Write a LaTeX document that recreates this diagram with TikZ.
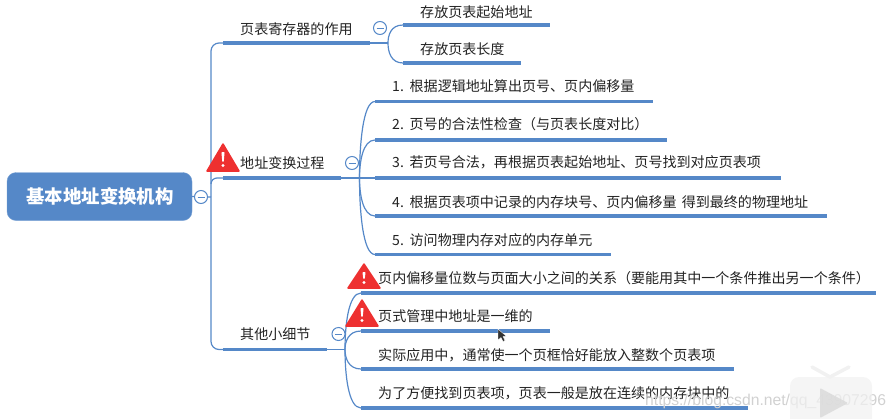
\documentclass[tikz,border=0pt]{standalone}
\usepackage{fontspec}
\usetikzlibrary{calc}
\setmainfont{Noto Sans CJK SC}
\setsansfont{Liberation Sans}
\definecolor{mapblue}{HTML}{5588C8}
\definecolor{warnred}{HTML}{EE3030}
\definecolor{wmgray}{HTML}{F1F1F1}
\definecolor{txt}{HTML}{222222}
\newcommand{\numgap}{\hspace{1.6pt}}
\tikzset{
  x=1pt,y=-1pt,
  lbl/.style={anchor=base west,inner sep=0pt,font=\fontsize{14.05}{15}\selectfont,text=txt},
  bar/.style={draw=mapblue,line width=3.4pt},
  link/.style={draw=mapblue,line width=1.2pt},
  fold/.style={circle,draw=mapblue,fill=white,line width=1pt,minimum size=13pt,inner sep=0pt},
  rootbox/.style={rounded corners=9pt,fill=mapblue,draw=mapblue!80!white,minimum width=185pt,minimum height=48pt,text=white,font=\bfseries\fontsize{18.4}{20}\selectfont,inner sep=0pt},
  warnshape/.style={fill=warnred,draw=warnred,line width=1.5pt,line join=round}
}
\newcommand{\warnsign}[3]{% left x, apex y, bottom y
  \path[warnshape] ({#1+16},#2) -- ({#1+32},#3) -- (#1,#3) -- cycle;
  \fill[white,rounded corners=0.8pt] ({#1+14.4},{#2+8}) -- ({#1+17.6},{#2+8}) -- ({#1+16.7},{#3-9}) -- ({#1+15.3},{#3-9}) -- cycle;
  \fill[white] ({#1+16},{#3-5.5}) circle (1.7);
}
\begin{document}
\begin{tikzpicture}
\useasboundingbox (0,0) rectangle (896,418);
% root
\node[rootbox] (root) at (99.5,196.5) {\hspace{1pt}基本地址变换机构};
% level 1 labels
\node[lbl] (t1) at (240,34) {页表寄存器的作用};
\node[lbl] (t2) at (240,168.5) {地址变换过程};
\node[lbl] (t3) at (240,339) {其他小细节};
% level 2 labels
\node[lbl] (a1) at (420,17) {存放页表起始地址};
\node[lbl] (a2) at (420,54) {存放页表长度};
\node[lbl] (b1) at (392,91) {1.\numgap{} 根据逻辑地址算出页号、页内偏移量};
\node[lbl] (b2) at (392,129) {2.\numgap{} 页号的合法性检查（与页表长度对比）};
\node[lbl] (b3) at (392,167.5) {3.\numgap{} 若页号合法，再根据页表起始地址、页号找到对应页表项};
\node[lbl] (b4) at (392,207) {4.\numgap{} 根据页表项中记录的内存块号、页内偏移量\hspace{2pt} 得到最终的物理地址};
\node[lbl] (b5) at (392,245) {5.\numgap{} 访问物理内存对应的内存单元};
\node[lbl] (c1) at (378,283.5) {页内偏移量位数与页面大小之间的关系（要能用其中一个条件推出另一个条件）};
\node[lbl] (c2) at (378,321) {页式管理中地址是一维的};
\node[lbl] (c3) at (378,360) {实际应用中，通常使一个页框恰好能放入整数个页表项};
\node[lbl] (c4) at (378,398) {为了方便找到页表项，页表一般是放在连续的内存块中的};
% bar ends
\coordinate (t1s) at (223,43); \coordinate (t1e) at (370,43);
\coordinate (t2s) at (223,178); \coordinate (t2e) at (341,178);
\coordinate (t3s) at (223,349.5); \coordinate (t3e) at (327,349.5);
\coordinate (a1s) at (403,25); \coordinate (a1e) at (550,25);
\coordinate (a2s) at (403,63); \coordinate (a2e) at (521,63);
\coordinate (b1s) at (375,101.5); \coordinate (b1e) at (653,101.5);
\coordinate (b2s) at (375,140); \coordinate (b2e) at (667,140);
\coordinate (b3s) at (375,178); \coordinate (b3e) at (781,178);
\coordinate (b4s) at (375,216); \coordinate (b4e) at (827,216);
\coordinate (b5s) at (375,254.5); \coordinate (b5e) at (611,254.5);
\coordinate (c1s) at (361,293); \coordinate (c1e) at (876,293);
\coordinate (c2s) at (361,331); \coordinate (c2e) at (550,331);
\coordinate (c3s) at (361,369); \coordinate (c3e) at (734,369);
\coordinate (c4s) at (361,408); \coordinate (c4e) at (748,408);
% junctions
\coordinate (j0) at (211,197);
\coordinate (j1) at (388,43);
\coordinate (j2) at (359.5,178);
\coordinate (j3) at (345,349.5);
% connectors
\draw[link] (root.east) -- (j0);
\draw[link,rounded corners=8pt] (t1s) -| (j0) |- (t3s);
\draw[link,rounded corners=6pt] (j0 |- t2s) ++(0,6) |- (t2s);
\draw[link] (t1e) -- (j1);
\draw[link] (t2e) -- (j2);
\draw[link] (t3e) -- (j3);
\foreach \nm in {a1,a2} \draw[link] (j1) .. controls ($(j1)!0.45!(j1 |- \nm s)$) and ($(j1 |- \nm s)+(3,0)$) .. (\nm s);
\foreach \nm in {b1,b2,b4,b5} \draw[link] (j2) .. controls ($(j2)!0.4!(j2 |- \nm s)$) and ($(j2 |- \nm s)+(3,0)$) .. (\nm s);
\draw[link] (j2) -- (b3s);
\foreach \nm in {c1,c2,c3,c4} \draw[link] (j3) .. controls ($(j3)!0.4!(j3 |- \nm s)$) and ($(j3 |- \nm s)+(3,0)$) .. (\nm s);
% bars
\foreach \nm in {t1,t2,t3,a1,a2,b1,b2,b3,b4,b5,c1,c2,c3,c4} \draw[bar] (\nm s) -- (\nm e);
% fold markers
\foreach \n/\x/\y in {f0/201/197,f1/380/28,f2/352/163,f3/338.5/334}{
  \node[fold] (\n) at (\x,\y) {};
  \draw[mapblue,line width=1pt] ($(\n.center)+(-3.5,0)$) -- ($(\n.center)+(3.5,0)$);
}
% warnings
\warnsign{207}{144}{171}
\warnsign{348}{264}{288}
\warnsign{346}{300}{326}
% cursor
\fill[black!80,draw=white,line width=.3pt] (498,329) -- (498,340) -- (501,337.5) -- (503,341.5) -- (505,340.5) -- (503,336.5) -- (506,336) -- cycle;
% watermark and play badge
\node[anchor=base west,inner sep=0pt,font=\sffamily\fontsize{15.7}{16}\selectfont,text=black!18] (wm) at (645,405.5) {https://blog.csdn.net/qq\_43907296};
\fill[wmgray,opacity=.72,rounded corners=9pt] (790,377) rectangle (872,430);
\draw[wmgray,line width=3.5pt,line cap=round] (812,367) -- (830,377) -- (849,367);
\fill[black!14,opacity=.85,rounded corners=1pt] (820,388) -- (848,403) -- (820,418) -- cycle;
\end{tikzpicture}
\end{document}
